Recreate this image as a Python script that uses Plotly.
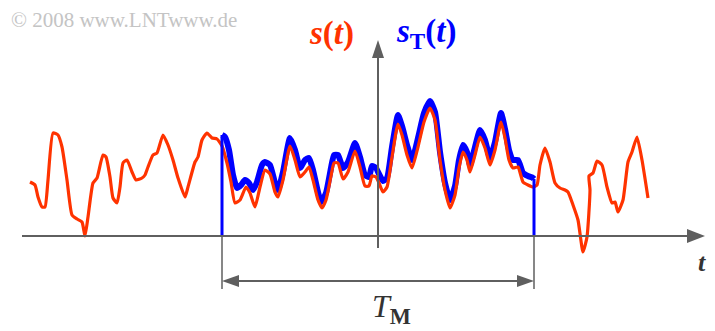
import plotly.graph_objects as go

# ---------------- data (time t, amplitude) ----------------
t_red = [-348, -343, -340, -336, -333, -330, -325, -320, -316, -311, -306, -301, -296, -293,
         -290, -285, -281, -275, -272, -268, -265, -261, -258, -255, -251, -246, -242, -236,
         -233, -230, -225, -221, -215, -210, -205, -200, -193, -190, -183, -180, -176, -171,
         -166, -161, -156, -151, -147, -143, -138, -132, -128, -123, -118, -113, -108, -103,
         -100, -95, -88, -83, -78, -73, -69, -65, -60, -56, -52, -47, -44, -40, -35, -30,
         -23, -18, -13, -9, -6, -2, 1, 5, 9, 14, 20, 24, 29, 34, 40, 46, 52, 57, 62, 67, 72,
         77, 81, 85, 89, 92, 97, 102, 107, 112, 117, 123, 127, 131, 135, 140, 145, 150, 155,
         159, 162, 167, 172, 177, 182, 187, 190, 195, 200, 205, 209, 212, 211, 215, 219, 224,
         229, 234, 237, 240, 245, 250, 254, 259, 264, 270]
s_red = [54, 51, 39, 29, 29, 56, 103, 101, 89, 56, 21, 17, 14, 0,
         19, 53, 58, 81, 79, 59, 38, 33, 49, 73, 76, 64, 56, 58,
         61, 69, 81, 83, 101, 91, 76, 58, 39, 49, 74, 79, 96, 103,
         98, 97, 90, 73, 54, 33, 36, 49, 43, 29, 49, 66, 62, 44,
         39, 56, 90, 76, 59, 64, 69, 56, 36, 28, 36, 60, 73, 73, 57, 64,
         85, 69, 50, 50, 60, 59, 53, 44, 49, 79, 112, 101, 81, 68, 89, 114, 128, 116, 76, 46, 28,
         41, 68, 84, 76, 64, 81, 99, 88, 71, 86, 114, 98, 76, 68, 69, 54, 51, 49,
         51, 71, 88, 74, 53, 48, 46, 44, 31, 16, -16, -1, 46, 60, 63, 75, 71,
         49, 33, 34, 24, 36, 74, 84, 99, 76, 38]

t_blue = [-156, -153, -149, -145, -141, -137, -133, -129, -125, -121, -116, -113, -108, -103,
          -100, -95, -88, -83, -78, -73, -69, -65, -60, -57, -52, -47, -44, -40, -35, -30,
          -23, -18, -13, -9, -6, -2, 1, 5, 9, 14, 20, 24, 29, 34, 40, 46, 52, 57, 62, 67,
          72, 77, 81, 85, 89, 92, 97, 102, 107, 112, 117, 123, 127, 131, 135, 140, 145, 150,
          155, 156]
s_blue = [101, 99, 86, 61, 48, 51, 56, 53, 46, 54, 71, 74, 71, 53,
          46, 64, 98, 86, 68, 76, 78, 66, 44, 34, 43, 68, 81, 81, 68, 74,
          93, 79, 61, 59, 70, 68, 62, 55, 58, 89, 121, 110, 91, 76, 98, 123, 135, 124, 84, 53,
          36, 50, 76, 91, 84, 71, 89, 106, 96, 78, 94, 123, 107, 86, 76, 76, 63, 60,
          58, 57]

window_start = -156
window_end = 156

RED = "#ff3300"
BLUE = "#0000ff"
AX = "#5f5f5f"

fig = go.Figure()

# truncated signal s_T(t) (drawn below the red curve)
fig.add_trace(go.Scatter(x=t_blue, y=s_blue, mode="lines",
                         line=dict(color=BLUE, width=6, shape="spline", smoothing=0.5),
                         hoverinfo="skip", showlegend=False))
# full signal s(t)
fig.add_trace(go.Scatter(x=t_red, y=s_red, mode="lines",
                         line=dict(color=RED, width=3.2, shape="spline", smoothing=0.5),
                         hoverinfo="skip", showlegend=False))
# window edges of s_T(t)
for te, ve in ((window_start, s_blue[0]), (window_end, s_blue[-1])):
    fig.add_trace(go.Scatter(x=[te, te], y=[0, ve], mode="lines",
                             line=dict(color=BLUE, width=3),
                             hoverinfo="skip", showlegend=False))

shapes = []
# horizontal time axis
shapes.append(dict(type="line", x0=-356, y0=0, x1=312, y1=0, line=dict(color=AX, width=2)))
shapes.append(dict(type="path", path="M 327 0 L 309 7 L 309 -7 Z", fillcolor=AX, line=dict(width=0)))
# vertical axis
shapes.append(dict(type="line", x0=0, y0=-12, x1=0, y1=182, line=dict(color=AX, width=2)))
shapes.append(dict(type="path", path="M 0 196 L -6 178 L 6 178 Z", fillcolor=AX, line=dict(width=0)))
# T_M marker lines
for te in (window_start, window_end):
    shapes.append(dict(type="line", x0=te, y0=0, x1=te, y1=-53, line=dict(color=AX, width=1.5)))
shapes.append(dict(type="line", x0=window_start + 10, y0=-45, x1=window_end - 10, y1=-45,
                   line=dict(color=AX, width=2)))
shapes.append(dict(type="path",
                   path=f"M {window_start} -45 L {window_start + 17} -39 L {window_start + 17} -51 Z",
                   fillcolor=AX, line=dict(width=0)))
shapes.append(dict(type="path",
                   path=f"M {window_end} -45 L {window_end - 17} -39 L {window_end - 17} -51 Z",
                   fillcolor=AX, line=dict(width=0)))

SERIF = "Liberation Serif"
annotations = [
    dict(x=-71, y=203, xref="x", yref="y", text="<b><i>s</i>(<i>t</i>)</b>", showarrow=False,
         font=dict(family=SERIF, size=33, color=RED), xanchor="left", yanchor="middle"),
    dict(x=16, y=203, xref="x", yref="y", text="<b><i>s</i><sub>T</sub>(<i>t</i>)</b>", showarrow=False,
         font=dict(family=SERIF, size=33, color=BLUE), xanchor="left", yanchor="middle"),
    dict(x=-8, y=-72, xref="x", yref="y", text="<i>T</i><sub><b>M</b></sub>", showarrow=False,
         font=dict(family=SERIF, size=32, color="#333333"), xanchor="left", yanchor="middle"),
    dict(x=0.988, y=-26, xref="paper", yref="y", text="<b><i>t</i></b>", showarrow=False,
         font=dict(family=SERIF, size=26, color="#333333"), xanchor="right", yanchor="middle",
         borderpad=0),
    dict(x=-369, y=216, xref="x", yref="y", text="© 2008 www.LNTwww.de", showarrow=False,
         font=dict(family=SERIF, size=21, color="#c4c4c4"), xanchor="left", yanchor="middle"),
]

# the page body adds an 8 px margin, so the figure is 8 px smaller and the
# axis ranges start 8 px in, keeping the drawing where the reference has it
fig.update_layout(
    width=707, height=323,
    margin=dict(l=0, r=0, t=0, b=0),
    paper_bgcolor="white", plot_bgcolor="white",
    xaxis=dict(range=[-370, 337], visible=False, fixedrange=True),
    yaxis=dict(range=[-95, 228], visible=False, fixedrange=True),
    shapes=shapes, annotations=annotations,
    showlegend=False,
)

fig.write_html("out.html")
